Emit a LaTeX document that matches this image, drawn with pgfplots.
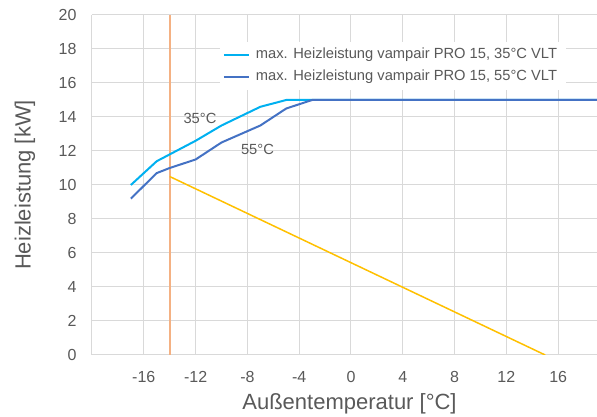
\documentclass[border=0pt]{standalone}
\usepackage{pgfplots}
\pgfplotsset{compat=1.18}
\usepackage{fontspec}
\setmainfont{Liberation Sans}
\definecolor{txt}{HTML}{595959}
\definecolor{gridc}{HTML}{D9D9D9}
\definecolor{c35}{HTML}{00B0F0}
\definecolor{c55}{HTML}{4472C4}
\definecolor{corange}{HTML}{F4B183}
\definecolor{cyellow}{HTML}{FFC000}
\begin{document}
\begin{tikzpicture}
\begin{axis}[
    name=ax,
    scale only axis,
    width=505pt, height=340pt,
    xmin=-20, xmax=19,
    ymin=0, ymax=20,
    xtick={-20,-16,...,16},
    xticklabels={{},-16,-12,-8,-4,0,4,8,12,16},
    ytick={0,2,...,20},
    grid=major,
    major grid style={gridc, line width=1pt},
    axis line style={draw=none},
    major tick length=0pt,
    tick label style={font=\fontsize{16}{18}\selectfont, text=txt,
        /pgf/number format/assume math mode=true},
    yticklabel style={xshift=-12pt},
    xticklabel style={yshift=-13pt},
    xlabel={Außentemperatur [°C]},
    ylabel={Heizleistung [kW]},
    xlabel style={at={(axis description cs:0.5,0)}, anchor=center,
        yshift=-49pt, xshift=5pt, font=\fontsize{22}{26}\selectfont, text=txt},
    ylabel style={at={(axis description cs:0,0.5)}, anchor=center,
        yshift=67pt, font=\fontsize{22}{26}\selectfont, text=txt},
    legend style={
        at={(0.253,0.922)}, anchor=north west,
        draw=none, fill=white,
        font=\fontsize{14.7}{17}\selectfont, text=txt,
        inner xsep=3pt, inner ysep=2pt,
        row sep=0pt,
        nodes={text height=11pt, text depth=3pt, inner ysep=4pt, inner xsep=6pt}},
    legend cell align=left,
    legend image code/.code={\draw[#1] (0pt,0pt) -- (25pt,0pt);},
]
% Auslegungstemperatur
\addplot[corange, line width=2pt, forget plot] coordinates {(-14,0) (-14,20)};
% Heizlast
\addplot[cyellow, line width=1.5pt, forget plot] coordinates {(-14,10.5) (15,0)};
\addplot[c35, line width=2pt] coordinates {
    (-17,10.0) (-15,11.4) (-14,11.8) (-12,12.6) (-10,13.5)
    (-7,14.6) (-5,15.0) (-3,15.0) (0,15.0) (19,15.0)
};
\addlegendentry{max. Heizleistung vampair PRO 15, 35°C VLT}
\addplot[c55, line width=2pt] coordinates {
    (-17,9.2) (-15,10.7) (-14,11.0) (-12,11.5) (-10,12.5)
    (-7,13.5) (-5,14.5) (-3,15.0) (0,15.0) (19,15.0)
};
\addlegendentry{max. Heizleistung vampair PRO 15, 55°C VLT}
\node[font=\fontsize{14.7}{17}\selectfont, text=txt] at (axis cs:-11.66,13.94) {35°C};
\node[font=\fontsize{14.7}{17}\selectfont, text=txt] at (axis cs:-7.22,12.12) {55°C};
\end{axis}
\pgfresetboundingbox
\path ([shift={(-92pt,-62pt)}]ax.south west) rectangle ([shift={(0pt,15pt)}]ax.north east);
\end{tikzpicture}
\end{document}
